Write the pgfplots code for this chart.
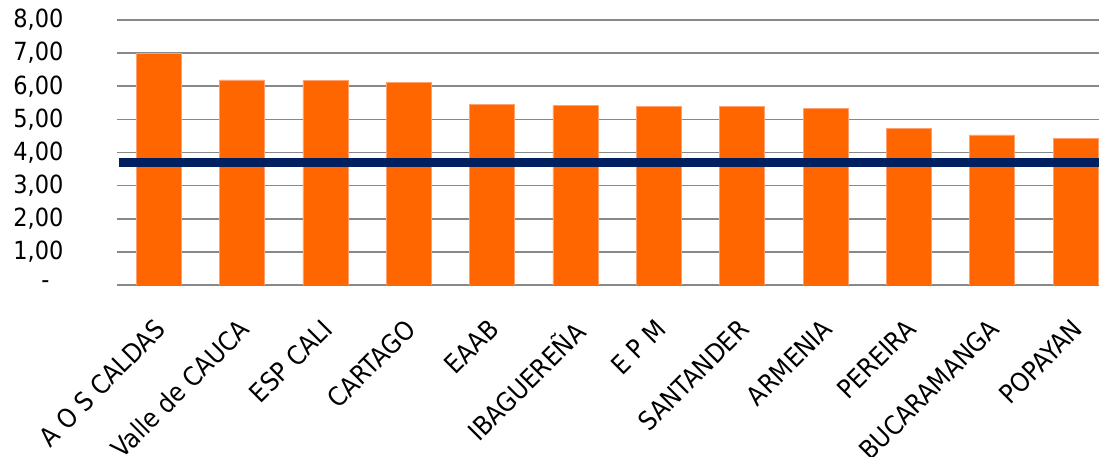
\documentclass[border=0pt]{standalone}
\usepackage{pgfplots}
\pgfplotsset{compat=1.18}
\usepackage{fontspec}
\setmainfont{DejaVu Sans Condensed}
\definecolor{barorange}{RGB}{255,102,0}
\definecolor{baredge}{RGB}{255,160,110}
\definecolor{navyline}{RGB}{0,32,96}
\definecolor{gridgray}{RGB}{136,136,136}

\begin{document}
\begin{tikzpicture}
\begin{axis}[
    scale only axis,
    width=982pt, height=265pt,
    xmin=-0.5, xmax=11.28,
    ymin=0, ymax=8,
    axis x line=bottom,
    axis y line=left,
    axis line style={-, gridgray, line width=1.6pt},
    y axis line style={draw=none},
    ymajorgrids=true,
    grid style={gridgray, line width=1.6pt},
    major tick length=0pt,
    ytick={0,1,2,3,4,5,6,7,8},
    yticklabels={{\makebox[48pt][l]{\hspace{26pt}-}},{1,00},{2,00},{3,00},{4,00},{5,00},{6,00},{7,00},{8,00}},
    yticklabel style={anchor=east, xshift=-50pt, font=\fontsize{25}{30}\selectfont},
    xtick={0,1,2,3,4,5,6,7,8,9,10,11},
    xticklabels={A O S CALDAS,Valle de CAUCA,ESP CALI,CARTAGO,EAAB,IBAGUEREÑA,E P M,SANTANDER,ARMENIA,PEREIRA,BUCARAMANGA,POPAYAN},
    % shifts act in the rotated frame
    xticklabel style={rotate=45, anchor=north east, xshift=-23pt, yshift=-16pt, font=\fontsize{26}{30}\selectfont},
]
\addplot[ybar, bar width=45pt, fill=barorange, draw=baredge, line width=0.8pt]
coordinates {
    (0,6.98) (1,6.19) (2,6.17) (3,6.11) (4,5.45) (5,5.41)
    (6,5.39) (7,5.39) (8,5.32) (9,4.73) (10,4.53) (11,4.42)
};
\addplot[navyline, line width=9pt, no markers]
coordinates {(-0.48,3.69) (11.28,3.69)};
\end{axis}
\pgfresetboundingbox
\path ([shift={(-117pt,-172pt)}]current axis.south west) rectangle ([shift={(0pt,20pt)}]current axis.north east);
\end{tikzpicture}
\end{document}
